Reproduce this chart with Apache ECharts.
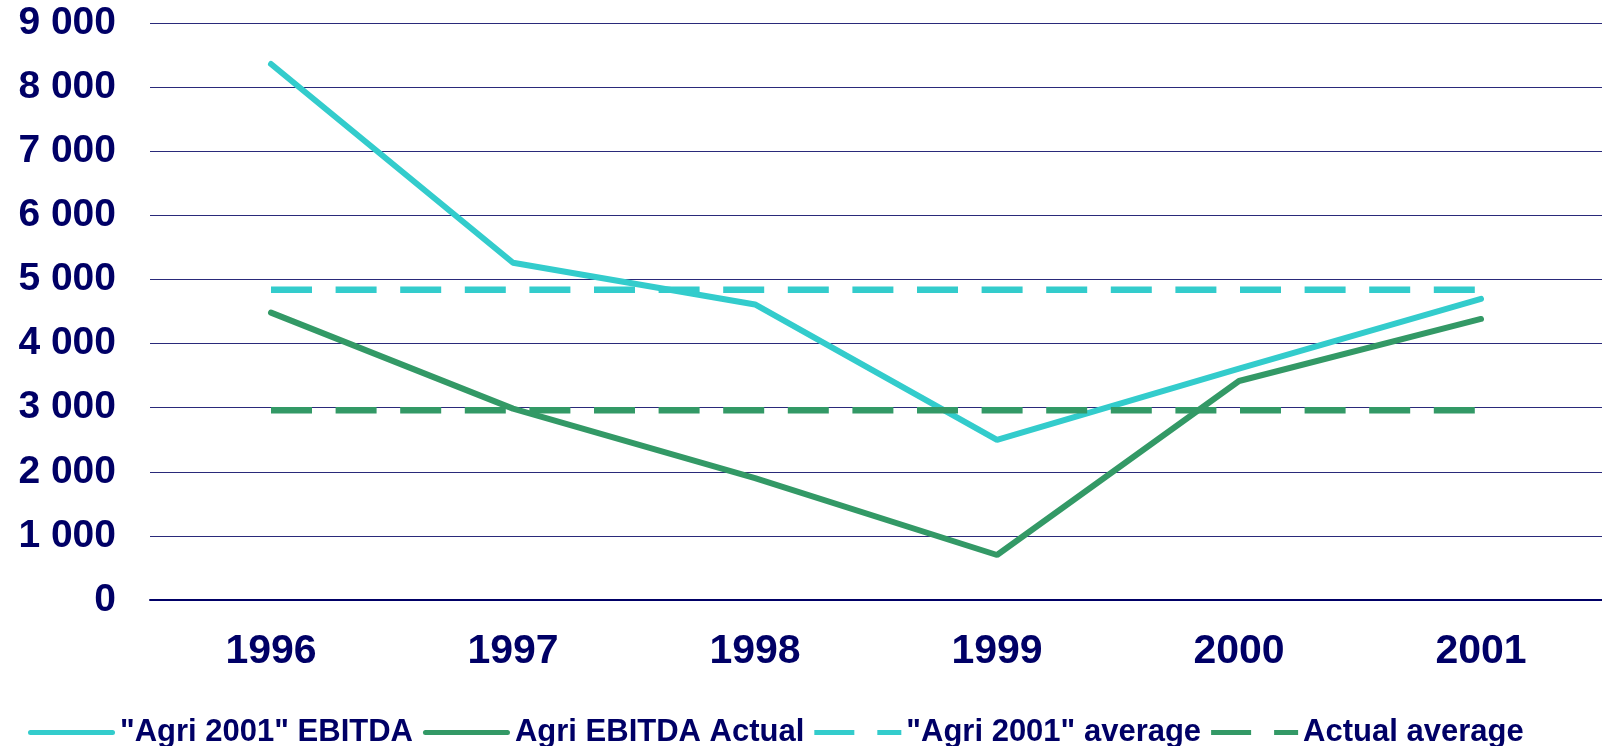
<!DOCTYPE html>
<html>
<head>
<meta charset="utf-8">
<script src="https://cdn.jsdelivr.net/npm/echarts@6/dist/echarts.min.js"></script>
<style>
  html, body { margin: 0; padding: 0; background: #fff; }
  #chart { width: 1602px; height: 746px; }
</style>
</head>
<body>
<div id="chart"></div>
<script>
// years on the x axis
const years = ['1996', '1997', '1998', '1999', '2000', '2001']
// values
const agriPlan = [8360, 5260, 4610, 2496, 3610, 4696]
const agriActual = [4483, 2985, 1900, 702, 3416, 4384]
const planAverage = [4840, 4840, 4840, 4840, 4840, 4840]
const actualAverage = [2960, 2960, 2960, 2960, 2960, 2960]

const navy = '#000066'
const cyan = '#33CCCC'
const green = '#339966'
const font = '"Liberation Sans", Arial, sans-serif'

// legend icons: a rounded solid bar and a dash-gap-dash bar
const solidIcon = 'path://M2.5,0h82a2.5,2.5 0 0 1 0,5h-82a2.5,2.5 0 0 1 0,-5z'
const dashIcon = 'path://M0,0h40v5h-40z M63,0h24v5h-24z'

const myChart = echarts.init(document.getElementById('chart'))

const lineCfg = {
  type: 'line',
  symbol: 'none',
  z: 3
}

const option = {
  animation: false,
  grid: {
    left: 150,
    right: -12,
    top: 23,
    bottom: 146
  },
  legend: {
    top: 712,
    left: 23,
    itemWidth: 87,
    itemHeight: 5,
    itemGap: 10,
    data: [
      { name: '"Agri 2001" EBITDA', icon: solidIcon },
      { name: 'Agri EBITDA Actual', icon: solidIcon },
      { name: '"Agri 2001" average', icon: dashIcon },
      { name: 'Actual average', icon: dashIcon }
    ],
    textStyle: {
      color: navy,
      fontFamily: font,
      fontWeight: 'bold',
      fontSize: 31
    }
  },
  xAxis: {
    type: 'category',
    data: years,
    boundaryGap: true,
    axisLine: { lineStyle: { color: navy, width: 2 } },
    axisTick: { show: false },
    axisLabel: {
      margin: 31,
      color: navy,
      fontFamily: font,
      fontWeight: 'bold',
      fontSize: 41
    }
  },
  yAxis: {
    type: 'value',
    min: 0,
    max: 9000,
    interval: 1000,
    axisLine: { show: false },
    axisTick: { show: false },
    splitLine: { lineStyle: { color: '#2a2a7a', width: 1 } },
    axisLabel: {
      margin: 34,
      color: navy,
      fontFamily: font,
      fontWeight: 'bold',
      fontSize: 39,
      formatter: (v) => String(v).replace(/\B(?=(\d{3})+(?!\d))/g, ' ')
    }
  },
  series: [
    {
      name: '"Agri 2001" EBITDA',
      color: cyan,
      data: agriPlan,
      lineStyle: { width: 6, color: cyan, cap: 'round' },
      ...lineCfg
    },
    {
      name: 'Agri EBITDA Actual',
      color: green,
      data: agriActual,
      lineStyle: { width: 6, color: green, cap: 'round' },
      ...lineCfg
    },
    {
      name: '"Agri 2001" average',
      color: cyan,
      data: planAverage,
      lineStyle: { width: 6.5, color: cyan, type: [41, 23.6] },
      ...lineCfg
    },
    {
      name: 'Actual average',
      color: green,
      data: actualAverage,
      lineStyle: { width: 6.5, color: green, type: [41, 23.6] },
      ...lineCfg
    }
  ]
}

myChart.setOption(option)
</script>
</body>
</html>
